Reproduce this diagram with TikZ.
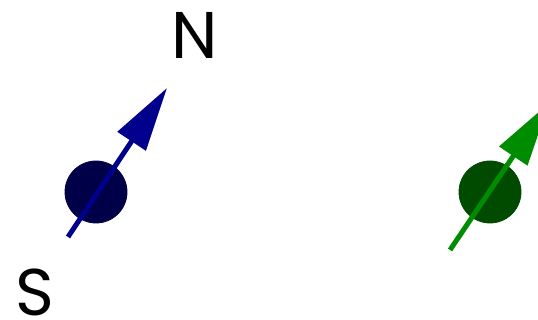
\documentclass[tikz,border=0pt]{standalone}
\usepackage{fontspec}
\setmainfont{Poppins}
\usetikzlibrary{arrows.meta}
\definecolor{navyarrow}{RGB}{0,0,140}
\definecolor{navydot}{RGB}{0,0,72}
\definecolor{greenarrow}{RGB}{0,140,0}
\definecolor{greendot}{RGB}{0,75,0}
\tikzset{
  dot/.style={circle, minimum size=62pt, inner sep=0pt, line width=0.8pt},
  needle/.style={line width=5pt, -{Triangle[length=64pt,width=33pt]}},
  pole/.style={font=\fontsize{66}{66}\selectfont, inner sep=0pt}
}
\begin{document}
\begin{tikzpicture}[x=1pt,y=1pt]
\useasboundingbox (0,0) rectangle (538,320);
\clip (0,0) rectangle (538,320);
% blue magnet
\node[dot, fill=navydot, draw=navydot] (bc) at (96,128) {};
\coordinate (bs) at (68,83);
\coordinate (bt) at (167,232);
\draw[needle, draw=navyarrow, fill=navyarrow] (bs) -- (bt);
\node[pole] (n) at (195,285) {N};
\node[pole] (s) at (35,28) {S};
% green magnet
\node[dot, fill=greendot, draw=greendot] (gc) at (490,128) {};
\coordinate (gs) at (450,70);
\coordinate (gt) at (549,217);
\draw[needle, draw=greenarrow, fill=greenarrow] (gs) -- (gt);
\end{tikzpicture}
\end{document}
